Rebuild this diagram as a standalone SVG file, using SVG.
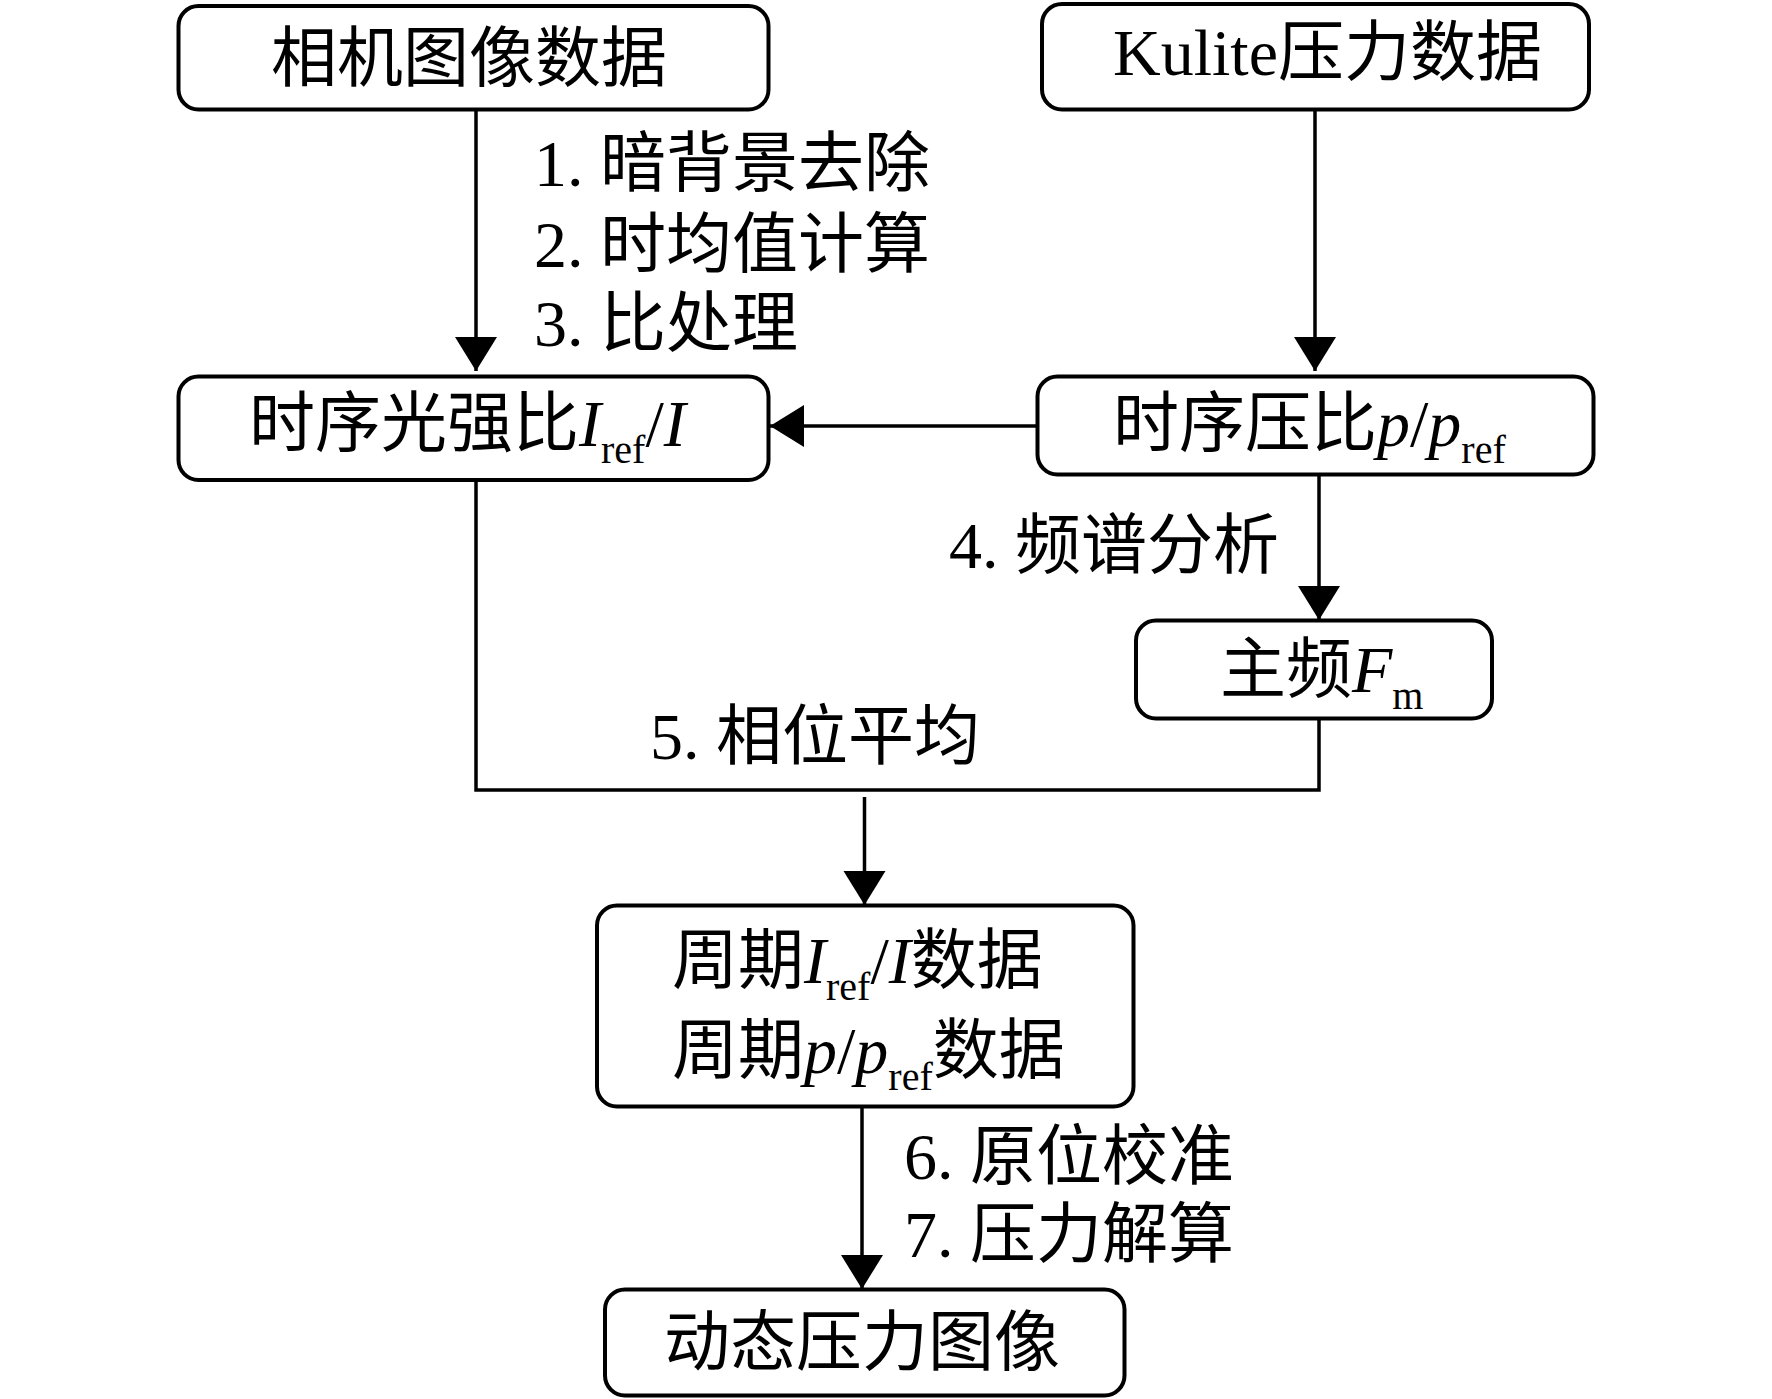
<svg xmlns="http://www.w3.org/2000/svg" width="1772" height="1399" viewBox="0 0 1772 1399">
<defs>
<style>
.box{fill:#fff;stroke:#000;stroke-width:4}
.ln{fill:none;stroke:#000;stroke-width:3.5}
.t{font-family:"Liberation Serif","Noto Sans CJK SC",serif;font-size:66px;fill:#000}
.i{font-style:italic}
.s{font-size:40px}
</style>
<marker id="ah" markerUnits="userSpaceOnUse" markerWidth="36" markerHeight="44" refX="34" refY="21" orient="auto">
<path d="M0,0 L34,21 L0,42 Z" fill="#000"/>
</marker>
</defs>
<rect width="1772" height="1399" fill="#fff"/>
<g id="connectors">
<line class="ln" x1="476" y1="110" x2="476" y2="371" marker-end="url(#ah)"/>
<line class="ln" x1="1315" y1="110" x2="1315" y2="371" marker-end="url(#ah)"/>
<line class="ln" x1="1037" y1="426" x2="770" y2="426" marker-end="url(#ah)"/>
<line class="ln" x1="1319" y1="475" x2="1319" y2="620" marker-end="url(#ah)"/>
<polyline class="ln" points="476,480 476,790 1319,790 1319,719"/>
<line class="ln" x1="864.5" y1="797" x2="864.5" y2="905" marker-end="url(#ah)"/>
<line class="ln" x1="862" y1="1106" x2="862" y2="1289" marker-end="url(#ah)"/>
<text class="t" x="534" y="186">1. 暗背景去除</text>
<text class="t" x="534" y="267">2. 时均值计算</text>
<text class="t" x="534" y="346">3. 比处理</text>
<text class="t" x="949" y="568">4. 频谱分析</text>
<text class="t" x="650" y="759">5. 相位平均</text>
<text class="t" x="904" y="1179">6. 原位校准</text>
<text class="t" x="904" y="1257">7. 压力解算</text>
</g>
<g id="n1">
<rect class="box" x="178.5" y="6" width="590" height="103.5" rx="20"/>
<text class="t" x="271" y="81">相机图像数据</text>
</g>
<g id="n2">
<rect class="box" x="1042" y="4" width="547" height="105.5" rx="20"/>
<text class="t" x="1113" y="75">Kulite压力数据</text>
</g>
<g id="n3">
<rect class="box" x="178.5" y="376.5" width="590" height="103.5" rx="20"/>
<text class="t" x="249" y="446">时序光强比<tspan class="i">I</tspan><tspan class="s" dy="17">ref</tspan><tspan dy="-17">/</tspan><tspan class="i">I</tspan></text>
</g>
<g id="n4">
<rect class="box" x="1037.5" y="376.5" width="556" height="98" rx="20"/>
<text class="t" x="1113" y="446">时序压比<tspan class="i">p</tspan>/<tspan class="i">p</tspan><tspan class="s" dy="17">ref</tspan></text>
</g>
<g id="n5">
<rect class="box" x="1136" y="620.5" width="356" height="98" rx="20"/>
<text class="t" x="1220" y="692">主频<tspan class="i">F</tspan><tspan class="s" dy="17">m</tspan></text>
</g>
<g id="n6">
<rect class="box" x="597" y="905.5" width="536.5" height="201" rx="20"/>
<text class="t" x="672" y="983">周期<tspan class="i">I</tspan><tspan class="s" dy="17">ref</tspan><tspan dy="-17">/</tspan><tspan class="i">I</tspan>数据</text>
<text class="t" x="672" y="1073">周期<tspan class="i">p</tspan>/<tspan class="i">p</tspan><tspan class="s" dy="17">ref</tspan><tspan dy="-17">数据</tspan></text>
</g>
<g id="n7">
<rect class="box" x="605" y="1289.5" width="519.5" height="106" rx="20"/>
<text class="t" x="664" y="1365">动态压力图像</text>
</g>
</svg>
